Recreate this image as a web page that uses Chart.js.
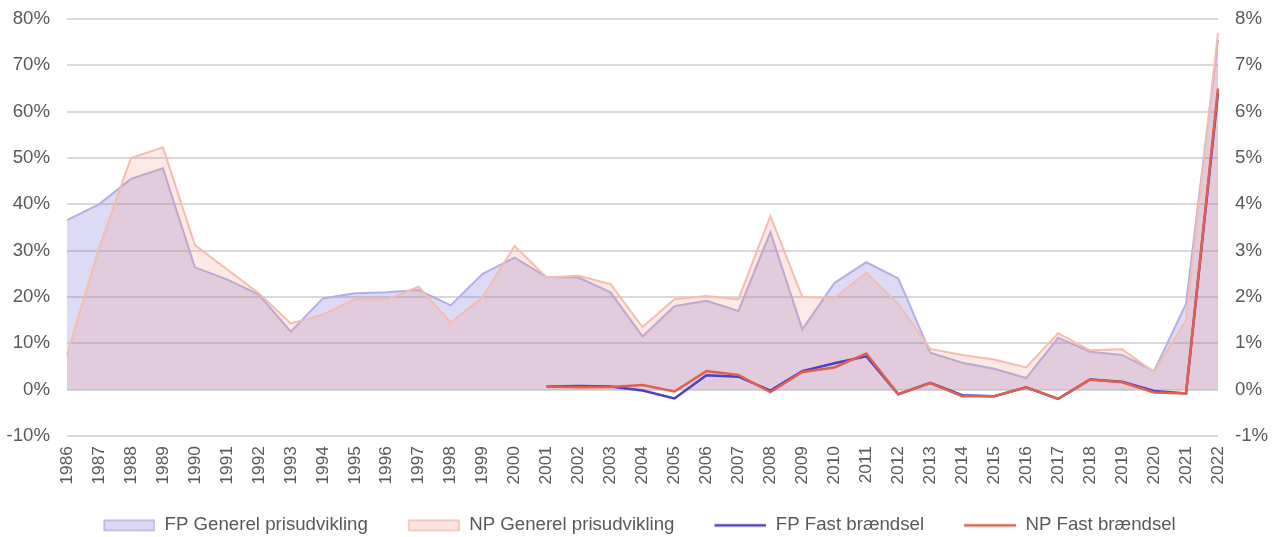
<!DOCTYPE html>
<html>
<head>
<meta charset="utf-8">
<script src="https://cdn.jsdelivr.net/npm/chart.js@4"></script>
<style>
  html, body { margin: 0; padding: 0; background: #fff; }
  #wrap { width: 1279px; height: 537px; }
</style>
</head>
<body>
<div id="wrap"><canvas id="myChart"></canvas></div>
<script>
const years = [];
for (let y = 1986; y <= 2022; y++) years.push(String(y));

// left axis, percent
const fpGenerel = [36.6, 40.0, 45.5, 47.8, 26.4, 23.8, 20.5, 12.5, 19.7, 20.8, 21.0, 21.5, 18.2, 25.0, 28.5, 24.3,
  24.2, 21.0, 11.5, 18.0, 19.2, 17.0, 34.0, 13.0, 23.0, 27.5, 24.0, 8.0, 5.8, 4.5, 2.5, 11.2, 8.2, 7.5, 4.0, 18.5, 75.5];
const npGenerel = [7.5, 30.5, 50.0, 52.3, 31.2, 26.0, 20.8, 14.3, 16.2, 19.5, 19.5, 22.2, 14.5, 20.0, 31.0, 24.2,
  24.6, 22.8, 13.5, 19.5, 20.2, 19.5, 37.5, 20.0, 19.8, 25.2, 18.5, 8.8, 7.5, 6.5, 4.8, 12.2, 8.5, 8.7, 3.8, 15.0, 77.0];

// right axis, percent (from 2001)
const fpFast = [null, null, null, null, null, null, null, null, null, null, null, null, null, null, null,
  0.07, 0.08, 0.07, -0.02, -0.19, 0.31, 0.28, -0.02, 0.40, 0.57, 0.72, -0.10, 0.15, -0.12, -0.14, 0.05, -0.20, 0.22, 0.17, -0.03, -0.08, 6.4];
const npFast = [null, null, null, null, null, null, null, null, null, null, null, null, null, null, null,
  0.07, 0.05, 0.06, 0.10, -0.04, 0.40, 0.32, -0.05, 0.38, 0.48, 0.78, -0.10, 0.14, -0.14, -0.14, 0.05, -0.20, 0.22, 0.16, -0.06, -0.08, 6.5];

const leftTicks = [-10, 0, 10, 20, 30, 40, 50, 60, 70, 80];

// legend swatches: 30px empty gap on the left, then the box or line
function swatch(kind, fill, stroke) {
  const c = document.createElement("canvas");
  c.width = 82;
  c.height = 14;
  const g = c.getContext("2d");
  if (kind == "area") {
    g.fillStyle = fill;
    g.fillRect(31, 2, 50, 10);
    g.strokeStyle = stroke;
    g.lineWidth = 1.5;
    g.strokeRect(31, 2, 50, 10);
  } else {
    g.strokeStyle = stroke;
    g.lineWidth = 2.5;
    g.beginPath();
    g.moveTo(30, 7);
    g.lineTo(82, 7);
    g.stroke();
  }
  return c;
}

// move the legend row left by half of the first swatch's empty gap
const shiftLegend = {
  id: "shiftLegend",
  afterLayout(chart) {
    chart.legend.left -= 15;
    chart.legend.right -= 15;
  },
};

const ctx = document.getElementById("myChart");
Chart.defaults.font.family = "'Liberation Sans', Arial, sans-serif";
Chart.defaults.color = "#595959";

new Chart(ctx, {
  type: "line",
  plugins: [shiftLegend],
  data: {
    labels: years,
    datasets: [
      {
        label: "FP Generel prisudvikling",
        data: fpGenerel,
        yAxisID: "y",
        fill: "origin",
        backgroundColor: "rgba(112,100,212,0.24)",
        borderColor: "#b5aee2",
        borderWidth: 2,
        pointStyle: swatch("area", "#dcd9f3", "#b5aee2"),
        order: 3,
      },
      {
        label: "NP Generel prisudvikling",
        data: npGenerel,
        yAxisID: "y",
        fill: "origin",
        backgroundColor: "rgba(240,140,120,0.2)",
        borderColor: "#f4bdb0",
        borderWidth: 2,
        pointStyle: swatch("area", "#fce6e1", "#f4bdb0"),
        order: 2,
      },
      {
        label: "FP Fast brændsel",
        data: fpFast,
        yAxisID: "y1",
        fill: false,
        borderColor: "#4b3fc6",
        backgroundColor: "#4b3fc6",
        borderWidth: 2.5,
        pointStyle: swatch("line", null, "#4b3fc6"),
        order: 1,
      },
      {
        label: "NP Fast brændsel",
        data: npFast,
        yAxisID: "y1",
        fill: false,
        borderColor: "#e0604d",
        backgroundColor: "#e0604d",
        borderWidth: 2.5,
        pointStyle: swatch("line", null, "#e0604d"),
        order: 0,
      },
    ],
  },
  options: {
    responsive: true,
    maintainAspectRatio: false,
    animation: false,
    elements: { point: { radius: 0 }, line: { tension: 0 } },
    layout: { padding: 0 },
    plugins: {
      tooltip: { enabled: false },
      legend: {
        position: "bottom",
        maxHeight: 31,
        labels: {
          usePointStyle: true,
          pointStyleWidth: 82,
          boxHeight: 14,
          padding: 10,
          font: { size: 18.67 },
          color: "#595959",
          sort: (a, b) => a.datasetIndex - b.datasetIndex,
        },
      },
    },
    scales: {
      x: {
        offset: false,
        grid: { display: false, drawTicks: false },
        border: { display: false },
        afterFit: (s) => { s.height = 70; },
        ticks: { minRotation: 90, maxRotation: 90, autoSkip: false, font: { size: 17.33 }, padding: 10 },
      },
      y: {
        position: "left",
        min: -10,
        max: 80,
        afterBuildTicks: (s) => { s.ticks = leftTicks.map((v) => ({ value: v })); },
        afterFit: (s) => { s.width = 67; s.paddingTop = 19; s.paddingBottom = 12; },
        grid: { color: "#d9d9d9", lineWidth: 2, drawTicks: false },
        border: { display: false },
        ticks: { callback: (v) => v + "%", font: { size: 18.67 }, padding: 17 },
      },
      y1: {
        position: "right",
        min: -1,
        max: 8,
        afterFit: (s) => { s.width = 61; s.paddingTop = 19; s.paddingBottom = 12; },
        grid: { display: false, drawTicks: false },
        border: { display: false },
        ticks: { stepSize: 1, callback: (v) => v + "%", font: { size: 18.67 }, padding: 17 },
      },
    },
  },
});
</script>
</body>
</html>
